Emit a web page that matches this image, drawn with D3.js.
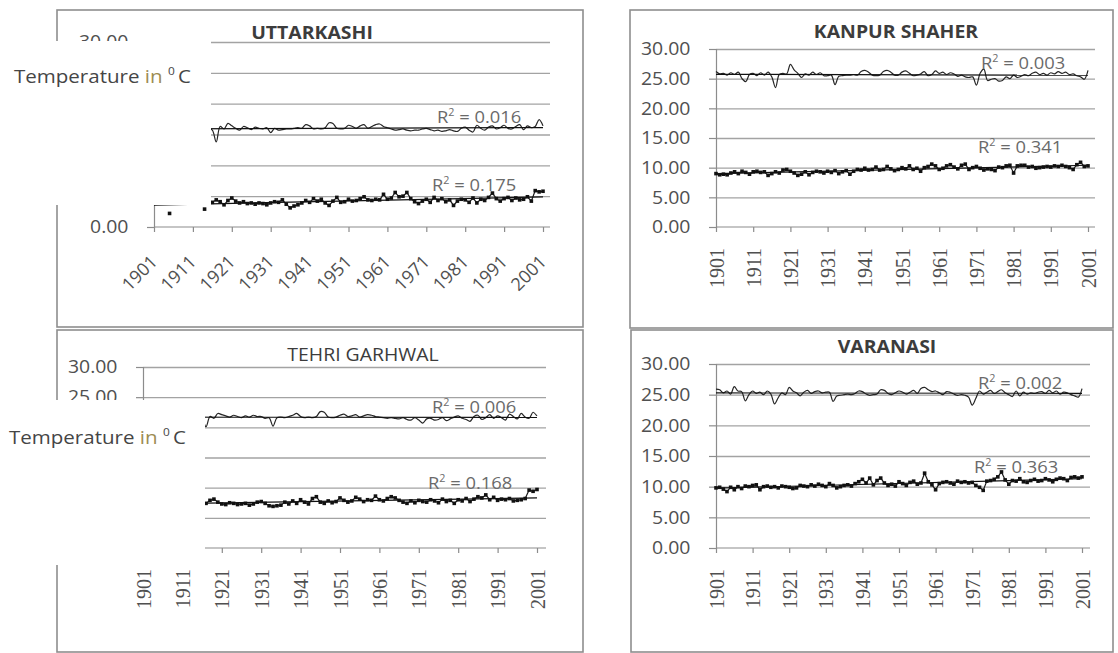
<!DOCTYPE html>
<html>
<head>
<meta charset="utf-8">
<script src="https://cdn.jsdelivr.net/npm/d3@7"></script>
<style>
  body { margin: 0; background: #fff; }
  svg { display: block; }
</style>
</head>
<body>
<svg id="chart" width="1118" height="653"></svg>
<script>
// categories
const firstYear = 1901, lastYear = 2001;
const years = d3.range(firstYear, lastYear + 1);
const tickYears = [1901, 1911, 1921, 1931, 1941, 1951, 1961, 1971, 1981, 1991, 2001];
const yTicks = [0, 5, 10, 15, 20, 25, 30];

// series values (one value per year 1901..2001)
const uttarkashiUpper = [
  16.0, 15.8, 16.1, 15.9, 16.2, 15.7, 16.0, 15.6, 15.5, 16.0,
  16.1, 15.8, 16.2, 15.9, 16.0, 15.7, 13.8, 16.3, 15.9, 16.8,
  16.4, 16.0, 15.7, 16.3, 16.1, 15.8, 16.2, 16.0, 15.9, 16.1,
  15.3, 16.0, 15.7, 15.8, 15.9, 15.9, 16.0, 16.1, 16.0, 16.6,
  16.4, 15.9, 16.0, 15.9, 16.1, 16.9, 16.8, 16.0, 15.9, 16.0,
  16.5, 16.3, 16.0, 16.4, 16.6, 16.0, 16.3, 16.6, 16.7, 16.3,
  16.1, 15.9, 15.7, 15.8, 15.9, 15.7, 15.6, 15.7, 15.7, 15.9,
  16.0, 15.8, 15.6, 15.7, 15.5, 15.6, 15.8, 15.6, 15.5, 16.0,
  16.2, 15.7, 15.4, 16.5, 16.0, 15.7, 16.2, 16.4, 15.9, 16.1,
  16.5, 16.0, 15.9, 16.3, 16.6, 15.8, 16.4, 16.1, 16.3, 17.4,
  16.4
];
const uttarkashiLower = [
  null, null, null, null, 2.2, null, null, null, null, null,
  null, null, null, 2.9, null, 4.0, 4.4, 4.1, 3.6, 4.3,
  4.7, 4.2, 3.9, 4.1, 3.8, 3.9, 3.7, 3.9, 3.8, 3.6,
  3.9, 4.1, 4.0, 4.4, 3.7, 3.1, 3.4, 3.6, 3.9, 4.3,
  4.0, 4.6, 4.2, 4.5, 3.9, 3.5, 4.2, 4.8, 4.0, 4.1,
  4.5, 4.2, 4.3, 4.6, 4.9, 4.4, 4.3, 4.5, 4.4, 5.3,
  4.5, 4.7, 5.6, 4.9, 5.0, 5.6, 4.6, 4.1, 3.8, 4.2,
  4.5, 4.0, 4.8, 4.3, 4.6, 4.1, 4.4, 3.5, 4.2, 4.5,
  4.4, 4.0, 4.7, 3.9, 4.5, 4.3, 4.8, 5.5, 4.6, 4.2,
  4.6, 4.8, 4.3, 4.7, 4.4, 4.5, 4.9, 4.2, 5.9, 5.7,
  5.8
];
const kanpurUpper = [
  26.2, 25.8, 25.9, 25.6, 26.0, 25.7, 26.1, 25.0, 24.5, 25.7,
  25.9, 25.5, 26.0, 25.6, 26.1, 25.3, 23.5, 25.7, 25.9, 25.8,
  27.4, 26.5, 25.9, 25.2, 25.8, 25.6, 26.1, 25.7, 26.0, 25.5,
  25.5, 25.6, 24.0, 25.4, 25.5, 25.6, 25.6, 25.7, 25.6, 26.2,
  26.4, 26.1, 25.6, 25.5, 25.6, 26.2, 26.4, 26.1, 25.6, 25.6,
  26.1, 26.3, 25.9, 25.5, 25.6, 25.8, 26.2, 25.5, 25.7, 26.3,
  25.9, 26.1, 25.7, 26.0, 25.8, 25.4, 25.6, 25.3, 25.2, 25.3,
  23.9, 25.9, 26.6, 24.7, 24.9, 25.0, 24.6, 24.7, 25.3, 25.0,
  25.6, 25.2, 25.4, 25.7, 25.5, 25.9, 26.1, 25.7, 25.9, 25.6,
  26.0, 25.8, 26.2, 25.9, 26.1, 25.7, 25.8, 25.5, 25.3, 24.9,
  26.4
];
const kanpurLower = [
  9.0, 8.8, 8.9, 8.8, 9.1, 9.3, 9.0, 9.4, 9.2, 8.9,
  9.3, 9.4, 9.2, 9.3, 8.7, 9.0, 9.3, 9.1, 9.6, 9.7,
  9.4, 9.1, 8.7, 8.9, 9.3, 8.8, 9.2, 9.4, 9.3, 9.1,
  9.4, 9.2, 9.5, 9.0, 9.3, 9.5, 8.9, 9.4, 9.7, 9.6,
  9.9, 9.6, 9.7, 10.1, 9.6, 9.7, 10.2, 9.8, 9.5, 9.7,
  10.0, 9.8, 10.3, 9.7, 9.9, 9.4, 10.0, 10.2, 10.6, 10.3,
  9.7, 9.9, 10.3, 10.5, 10.1, 9.8, 10.4, 10.6, 9.7, 10.0,
  10.2, 9.9, 9.6, 9.8, 9.7, 9.5, 10.1, 10.0, 10.3, 10.4,
  9.1, 10.3, 10.4, 10.4, 10.1, 10.2, 9.9, 10.0, 10.1, 10.2,
  10.1, 10.3, 10.2, 10.4, 10.2, 10.0, 9.7, 10.5, 10.9, 10.2,
  10.3
];
const tehriUpper = [
  21.6, 21.8, 21.5, 21.7, 21.9, 21.4, 21.6, 21.3, 21.5, 21.7,
  21.8, 21.5, 21.9, 21.6, 21.7, 21.4, 20.1, 21.8, 21.5, 22.3,
  22.1, 21.9, 21.7, 22.0, 21.8, 21.6, 21.9, 21.7, 22.0, 21.8,
  21.8, 21.5, 21.6, 20.2, 21.6, 21.7, 21.6, 21.8, 22.0, 22.3,
  21.8, 21.6, 21.7, 21.6, 21.8, 22.6, 22.5, 21.7, 21.6, 21.7,
  22.0, 22.2, 21.8, 21.9, 22.1, 21.7, 21.9, 22.1, 22.0, 21.8,
  21.7, 21.6, 21.5, 21.6, 21.5, 21.4, 21.6, 21.3, 21.2, 21.6,
  21.2, 20.7, 21.4, 21.5, 21.2, 21.3, 21.6, 21.1, 21.4, 21.7,
  21.9, 21.5, 21.3, 21.0, 21.8, 22.0, 21.3, 21.6, 22.1, 21.5,
  21.9, 21.6, 21.2, 22.2, 21.8, 21.4, 22.3, 21.7, 21.5, 22.5,
  21.9
];
const tehriLower = [
  7.5, 7.6, 7.4, 7.7, 7.5, 7.3, 7.6, 7.4, 7.5, 7.6,
  7.7, 7.4, 7.6, 7.5, 7.3, 7.4, 7.4, 7.9, 8.1, 7.6,
  7.3, 7.2, 7.5, 7.4, 7.2, 7.3, 7.4, 7.1, 7.3, 7.6,
  7.7, 7.4, 7.0, 6.9, 7.0, 7.1, 7.6, 7.3, 7.8, 7.4,
  8.0, 7.6, 7.3, 8.2, 8.5, 7.6, 7.4, 7.8, 7.5, 7.7,
  8.3, 7.9, 7.6, 7.8, 8.4, 8.1, 7.7, 8.0, 7.9, 8.6,
  8.0, 7.8, 8.2, 8.5, 8.3, 7.9, 7.6, 7.4, 7.8, 7.5,
  7.9, 7.7, 7.6, 8.0, 7.8, 7.5, 8.1, 7.7, 7.9, 7.4,
  8.0, 7.8, 8.2, 7.7, 8.1, 8.5, 8.3, 8.8, 8.0, 8.4,
  7.9, 8.1, 8.0, 8.2, 7.8, 7.9, 8.0, 8.2, 9.6, 9.4,
  9.7
];
const varanasiUpper = [
  25.9, 25.8, 25.3, 25.6, 25.1, 26.3, 25.6, 25.5, 24.0, 25.0,
  25.6, 25.2, 25.4, 25.0, 25.6, 25.1, 23.5, 24.5, 25.3, 25.0,
  26.2, 25.6, 25.3, 24.8, 25.4, 25.7, 25.2, 25.5, 25.6, 25.3,
  25.4, 25.4, 23.9, 24.8, 24.9, 25.0, 25.1, 25.0, 25.2, 25.6,
  25.5, 25.1, 24.9, 25.0, 25.1, 25.8, 25.7, 25.2, 25.0, 25.3,
  25.6, 25.4, 25.1, 25.4, 25.7, 25.2, 26.0, 26.2, 25.8, 25.5,
  25.6, 25.3, 25.0, 25.5, 25.4, 25.1, 24.9, 25.0, 24.9, 24.6,
  23.3, 24.4, 25.6, 25.1, 25.4, 25.7, 25.2, 25.5, 25.8, 25.3,
  25.0, 24.7, 25.6, 24.8, 25.4, 25.1, 25.3, 25.2, 25.4, 25.5,
  25.2, 25.7, 25.3, 25.6, 25.1, 25.4, 25.3, 25.0, 24.8, 24.6,
  26.0
];
const varanasiLower = [
  9.8, 9.9, 9.6, 9.2, 9.9, 9.5, 10.0, 9.7, 10.1, 10.0,
  10.2, 10.3, 9.5, 10.0, 10.1, 9.9, 10.0, 9.8, 10.1, 10.0,
  9.9, 9.7, 9.8, 10.2, 10.1, 10.0, 10.3, 10.1, 10.4, 10.2,
  10.0, 10.5, 10.2, 9.8, 10.0, 10.2, 10.3, 10.1, 10.5, 10.8,
  11.2, 10.6, 11.4, 10.3, 11.0, 11.4, 10.6, 10.2, 10.4, 10.1,
  10.8, 10.5, 10.2, 10.7, 10.9, 10.4, 10.6, 12.2, 10.8, 10.3,
  9.5, 10.5, 10.7, 10.8, 10.6, 10.4, 10.9, 10.7, 10.8, 10.6,
  10.7, 10.2, 9.9, 9.4, 10.9, 11.0, 11.2, 11.6, 12.4, 11.1,
  10.4, 11.0, 10.9, 11.3, 10.8, 10.7, 11.0, 11.2, 10.9, 11.0,
  11.3, 11.1, 10.8, 11.2, 11.4, 11.3, 11.0, 11.5, 11.6, 11.4,
  11.6
];

// trendline labels as printed on the charts
const uttarkashiR2 = ["0.016", "0.175"];
const kanpurR2 = ["0.003", "0.341"];
const tehriR2 = ["0.006", "0.168"];
const varanasiR2 = ["0.002", "0.363"];

const SANS = "'Open Sans', 'Noto Sans', sans-serif";
const SERIF = "'Liberation Serif', 'DejaVu Serif', serif";
const SX = 1.08;     // the picture is a little stretched sideways
const svg = d3.select('#chart');

// layout of the four excel charts
const panels = [
  { title: 'UTTARKASHI', bold: true, upper: uttarkashiUpper, lower: uttarkashiLower, r2: uttarkashiR2,
    box: [57, 10, 583, 327], x0: 154, x1: 543, right: 550, y0: 227, y30: 42,
    titleX: 312, titleY: 39, slant: true, r2Pos: [[437, 123], [432, 191]] },
  { title: 'KANPUR SHAHER', bold: true, upper: kanpurUpper, lower: kanpurLower, r2: kanpurR2,
    box: [630, 10, 1113, 328], x0: 716, x1: 1088, right: 1095, y0: 227, y30: 49,
    titleX: 896, titleY: 38, slant: false, r2Pos: [[981, 69], [978, 153]] },
  { title: 'TEHRI GARHWAL', bold: false, upper: tehriUpper, lower: tehriLower, r2: tehriR2,
    box: [57, 330, 583, 652], x0: 143, x1: 537, right: 546, y0: 548, y30: 367,
    titleX: 363, titleY: 361, slant: false, r2Pos: [[432, 413], [428, 489]] },
  { title: 'VARANASI', bold: true, upper: varanasiUpper, lower: varanasiLower, r2: varanasiR2,
    box: [631, 330, 1113, 652], x0: 716, x1: 1082, right: 1090, y0: 548, y30: 364,
    titleX: 887, titleY: 353, slant: false, r2Pos: [[978, 389], [974, 473]] }
];

// white patches pasted over the left charts, with the axis caption
const patches = [
  { x: 0, y: 41, w: 211, h: 164, tx: 14, ty: 83 },
  { x: 0, y: 400, w: 205, h: 165, tx: 9, ty: 444 }
];

function fitLine(vals) {
  const pts = vals.map((v, i) => [years[i], v]).filter(p => p[1] != null);
  const mx = d3.mean(pts, p => p[0]), my = d3.mean(pts, p => p[1]);
  const b = d3.sum(pts, p => (p[0] - mx) * (p[1] - my)) / d3.sum(pts, p => (p[0] - mx) ** 2);
  return yr => my + b * (yr - mx);
}

function drawPanel(p) {
  const g = svg.append('g');
  const [bx0, by0, bx1, by1] = p.box;
  g.append('rect')
    .attr('x', bx0).attr('y', by0).attr('width', bx1 - bx0).attr('height', by1 - by0)
    .attr('fill', '#fff').attr('stroke', '#8e8e8e').attr('stroke-width', 1.6);

  const x = d3.scaleLinear().domain([firstYear, lastYear]).range([p.x0, p.x1]);
  const y = d3.scaleLinear().domain([0, 30]).range([p.y0, p.y30]);

  // gridlines
  const grid = g.append('g').attr('transform', `translate(${p.x0},0)`)
    .call(d3.axisLeft(y).tickValues(yTicks.slice(1)).tickSize(-(p.right - p.x0)).tickFormat(''));
  grid.select('.domain').remove();
  grid.selectAll('line').attr('stroke', '#a3a3a3').attr('stroke-width', 1.3);

  // y axis, ticks and labels
  const ya = g.append('g').attr('transform', `translate(${p.x0},0)`)
    .call(d3.axisLeft(y).tickValues(yTicks).tickSize(7).tickPadding(15).tickFormat(d3.format('.2f')));
  ya.select('.domain').attr('stroke', '#8c8c8c').attr('stroke-width', 1.2);
  ya.selectAll('line').attr('stroke', '#8c8c8c').attr('stroke-width', 1.2);
  ya.selectAll('text')
    .attr('class', 'ylab')
    .attr('font-family', SANS).attr('font-size', 18).attr('fill', '#505050')
    .attr('transform', `translate(${-22 * (SX - 1)},0) scale(${SX},1)`);

  // x axis
  g.append('line').attr('x1', p.x0).attr('x2', p.right).attr('y1', p.y0).attr('y2', p.y0)
    .attr('stroke', '#8c8c8c').attr('stroke-width', 1.2);
  const xa = g.append('g').attr('transform', `translate(0,${p.y0})`)
    .call(d3.axisBottom(x).tickValues(tickYears).tickSize(5).tickSizeOuter(0).tickFormat(d3.format('d')));
  xa.select('.domain').remove();
  xa.selectAll('line').attr('stroke', '#8c8c8c').attr('stroke-width', 1.2);
  if (p.slant) {
    xa.selectAll('text')
      .attr('font-family', SANS).attr('font-size', 18).attr('fill', '#505050')
      .attr('text-anchor', 'end').attr('x', 0).attr('y', 0).attr('dy', null)
      .attr('transform', 'translate(4,36) rotate(-45)');
  } else {
    xa.selectAll('text')
      .attr('font-family', SERIF).attr('font-size', 20).attr('fill', '#505050')
      .attr('text-anchor', 'end').attr('x', 0).attr('y', 0).attr('dy', '0.35em')
      .attr('transform', 'translate(0,21) rotate(-90)');
  }

  // title
  g.append('text')
    .attr('transform', `translate(${p.titleX},${p.titleY}) scale(${SX},1)`)
    .attr('text-anchor', 'middle').attr('font-family', SANS)
    .attr('font-size', 18).attr('font-weight', p.bold ? 700 : 400)
    .attr('fill', '#3c3c3c').text(p.title);

  // upper series: plain smoothed line
  const upperLine = d3.line().defined(d => d != null)
    .x((d, i) => x(years[i])).y(d => y(d)).curve(d3.curveCatmullRom);
  g.append('path').datum(p.upper).attr('d', upperLine)
    .attr('fill', 'none').attr('stroke', '#262626').attr('stroke-width', 1.2);

  // lower series: line with square markers
  const lowerLine = d3.line().defined(d => d != null)
    .x((d, i) => x(years[i])).y(d => y(d));
  g.append('path').datum(p.lower).attr('d', lowerLine)
    .attr('fill', 'none').attr('stroke', '#1a1a1a').attr('stroke-width', 1.2);
  g.selectAll('.mk').data(p.lower.map((v, i) => [years[i], v]).filter(d => d[1] != null))
    .join('rect')
    .attr('x', d => x(d[0]) - 1.8).attr('y', d => y(d[1]) - 1.8)
    .attr('width', 3.6).attr('height', 3.6).attr('fill', '#111');

  // linear trendlines
  [p.upper, p.lower].forEach(vals => {
    const f = fitLine(vals);
    g.append('line')
      .attr('x1', x(firstYear)).attr('y1', y(f(firstYear)))
      .attr('x2', x(lastYear)).attr('y2', y(f(lastYear)))
      .attr('stroke', '#111').attr('stroke-width', 1.2);
  });

  // R² labels
  p.r2.forEach((r, k) => {
    const t = g.append('text')
      .attr('transform', `translate(${p.r2Pos[k][0]},${p.r2Pos[k][1]}) scale(${SX},1)`)
      .attr('font-family', SANS).attr('font-size', 17).attr('fill', '#6a6a6a');
    t.append('tspan').text('R');
    t.append('tspan').attr('font-size', 10).attr('dy', -7).text('2');
    t.append('tspan').attr('dy', 7).text(' = ' + r);
  });
}

panels.forEach(drawPanel);

// tick labels that sit wholly under a patch are not in the picture
svg.selectAll('text').each(function () {
  const b = this.getBoundingClientRect();
  const covered = patches.some(c => b.left >= c.x && b.right <= c.x + c.w &&
    b.top >= c.y && b.bottom <= c.y + c.h);
  if (covered) d3.select(this).remove();
});

patches.forEach(c => {
  svg.append('rect').attr('x', c.x).attr('y', c.y).attr('width', c.w).attr('height', c.h).attr('fill', '#fff');
  const t = svg.append('text')
    .attr('transform', `translate(${c.tx},${c.ty}) scale(${SX},1)`)
    .attr('font-family', SANS).attr('font-size', 19).attr('fill', '#454545');
  t.append('tspan').text('Temperature ');
  t.append('tspan').attr('fill', '#9c8c52').text('in');
  t.append('tspan').attr('font-size', 11).attr('dy', -8).attr('dx', 5).text('0');
  t.append('tspan').attr('dy', 8).attr('dx', 3).text('C');
});
</script>
</body>
</html>
